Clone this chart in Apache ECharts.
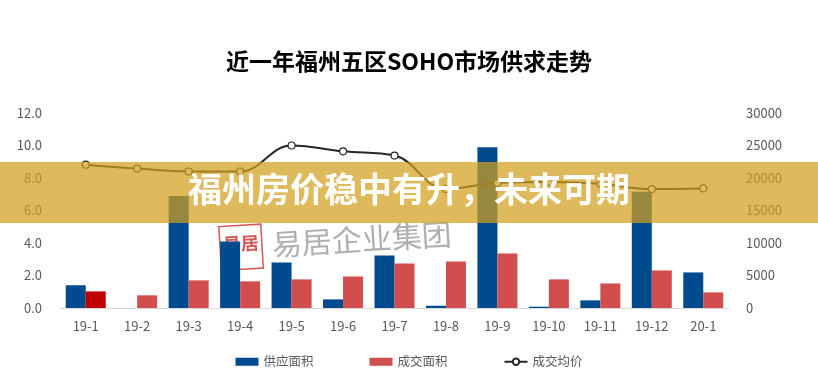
<!DOCTYPE html>
<html><head><meta charset="utf-8">
<script src="https://cdn.jsdelivr.net/npm/echarts@6/dist/echarts.min.js"></script>
<style>html,body{margin:0;padding:0;background:#fff}#c{width:818px;height:387px}</style>
</head><body><div id="c"></div>
<script>
const categories = ['19-1','19-2','19-3','19-4','19-5','19-6','19-7','19-8','19-9','19-10','19-11','19-12','20-1'];
const supplyArea = [1.4, 0, 6.9, 4.1, 2.8, 0.53, 3.23, 0.14, 9.9, 0.08, 0.47, 7.16, 2.19];
const dealArea = [1.02, 0.78, 1.7, 1.64, 1.76, 1.94, 2.74, 2.86, 3.35, 1.76, 1.51, 2.31, 0.96];
const avgPrice = [22050, 21450, 21000, 21000, 25000, 24100, 23450, 18300, 19250, 19400, 19100, 18300, 18400];
const leftTicks = {min: 0, max: 12, interval: 2};
const rightTicks = {min: 0, max: 30000, interval: 5000};
const titleText = '近一年福州五区SOHO市场供求走势';
const bannerText = '福州房价稳中有升，未来可期';

const font = '"Noto Sans CJK SC", "Noto Sans", sans-serif';
const chart = echarts.init(document.getElementById('c'));
chart.setOption({
  animation: false,
  title: {text: titleText, left: 'center', top: 45,
    textStyle: {fontFamily: font, fontSize: 23, fontWeight: 'bold', color: '#000'}},
  grid: {left: 60, right: 89, top: 113, bottom: 79},
  legend: {bottom: 14, left: 'center', itemGap: 56, itemWidth: 23, itemHeight: 8,
    textStyle: {fontFamily: font, fontSize: 12.5, color: '#595959'},
    data: [{name: '供应面积', icon: 'rect'}, {name: '成交面积', icon: 'rect'}, {name: '成交均价'}]},
  xAxis: {type: 'category', data: categories,
    axisLine: {lineStyle: {color: '#D9D9D9'}}, axisTick: {show: false},
    axisLabel: {fontFamily: font, fontSize: 13, color: '#595959', margin: 12}},
  yAxis: [
    {type: 'value', min: leftTicks.min, max: leftTicks.max, interval: leftTicks.interval, splitLine: {show: false},
     axisLabel: {fontFamily: font, fontSize: 13, color: '#595959', margin: 18, formatter: v => v.toFixed(1)}},
    {type: 'value', min: rightTicks.min, max: rightTicks.max, interval: rightTicks.interval, splitLine: {show: false},
     axisLabel: {fontFamily: font, fontSize: 13, color: '#595959', margin: 17, formatter: v => String(v)}}
  ],
  series: [
    {name: '供应面积', type: 'bar', data: supplyArea, barWidth: 20, barGap: '0%', itemStyle: {color: '#004B8D'}},
    {name: '成交面积', type: 'bar', barWidth: 20,
     data: dealArea.map((v, i) => i === 0 ? {value: v, itemStyle: {color: '#C00000'}} : v),
     itemStyle: {color: '#D24E4E'}},
    {name: '成交均价', type: 'line', yAxisIndex: 1, data: avgPrice, smooth: 0.4,
     symbol: 'circle', symbolSize: 7, lineStyle: {color: '#262626', width: 2},
     itemStyle: {color: '#fff', borderColor: '#262626', borderWidth: 1.2}}
  ],
  graphic: [
    {type: 'group', left: 218, top: 212, rotation: 0.06, z: 50, children: [
      {type: 'rect', shape: {x: 0, y: 0, width: 42, height: 44}, style: {fill: 'rgba(255,255,255,0.3)', stroke: 'rgba(200,30,30,0.75)', lineWidth: 1.5}},
      {type: 'text', style: {x: 3, y: 9, text: '易居', font: 'bold 18px ' + font, fill: 'rgba(200,30,30,0.75)'}},
      {type: 'text', style: {x: 52, y: 6, text: '易居企业集团', font: '30px ' + font, fill: 'rgba(110,110,110,0.55)'}}
    ]},
    {type: 'rect', left: 0, top: 162, z: 100, shape: {width: 818, height: 61},
     style: {fill: 'rgba(210,160,30,0.72)'}},
    {type: 'text', left: 'center', top: 172, z: 101,
     style: {text: bannerText, font: 'bold 34px ' + font, fill: '#fff',
       shadowColor: 'rgba(0,0,0,0.25)', shadowBlur: 3}}
  ]
});
</script></body></html>
